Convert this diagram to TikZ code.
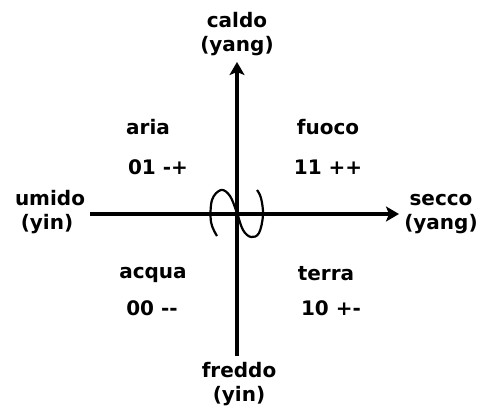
\documentclass[tikz,border=0pt]{standalone}
\usepackage{fontspec}
\setmainfont{DejaVu Sans}
\usetikzlibrary{arrows.meta}
\begin{document}
\begin{tikzpicture}[x=1pt,y=-1pt,
  lbl/.style={font=\bfseries\fontsize{20}{24}\selectfont, inner sep=0pt, anchor=base},
  axis/.style={line width=3.5pt, -{Stealth[length=13pt,width=15pt,inset=3pt]}},
  curl/.style={line width=2.2pt}]
\useasboundingbox (0,0) rectangle (482,409);
% axes endpoints
\coordinate (L) at (90,214);
\coordinate (R) at (399,214);
\coordinate (B) at (237,356);
\coordinate (T) at (237,62);
\draw[axis] (L) -- (R);
\draw[axis] (B) -- (T);
% labels
\node[lbl] (caldo) at (237,28) {caldo};
\node[lbl] (caldoy) at (237,52) {(yang)};
\node[lbl] (umido) at (50,205) {umido};
\node[lbl] (umidoy) at (47,229) {(yin)};
\node[lbl] (secco) at (441,205) {secco};
\node[lbl] (seccoy) at (441,229) {(yang)};
\node[lbl] (freddo) at (239,377) {freddo};
\node[lbl] (freddoy) at (239,401) {(yin)};
\node[lbl] (aria) at (148,135) {aria};
\node[lbl] (aria2) at (158,175) {01 -+};
\node[lbl] (fuoco) at (328,135) {fuoco};
\node[lbl] (fuoco2) at (328,175) {11 ++};
\node[lbl] (acqua) at (153,278) {acqua};
\node[lbl] (acqua2) at (152,315) {00 -{}-};
\node[lbl] (terra) at (326,280) {terra};
\node[lbl] (terra2) at (331,315) {10 +-};
% curl
\draw[curl] plot[smooth, tension=0.6] coordinates {(217,236) (211,222) (212,200) (221,190) (230,196) (237,213) (243,230) (251,237) (259,233) (263,215) (261,198) (257,190)};
\end{tikzpicture}
\end{document}
